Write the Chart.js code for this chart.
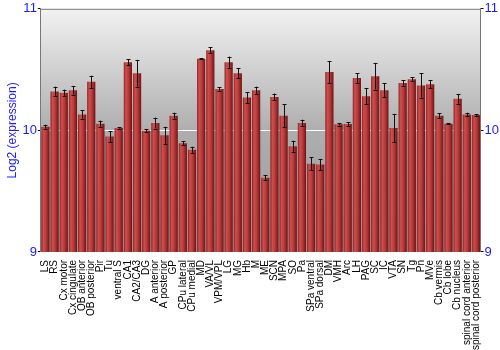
<!DOCTYPE html>
<html>
<head>
<meta charset="utf-8">
<script src="https://cdn.jsdelivr.net/npm/chart.js@4/dist/chart.umd.min.js"></script>
<style>
  html, body { margin: 0; padding: 0; background: #fff; }
  #wrap { width: 500px; height: 350px; }
</style>
</head>
<body>
<div id="wrap"><canvas id="chart" width="500" height="350"></canvas></div>
<script>
// regions
var regions = ["LS","RS","Cx motor","Cx cingulate","OB anterior","OB posterior","Pir","Tu","ventral S","CA1","CA2/CA3","DG","A anterior","A posterior","GP","CPu lateral","CPu medial","MD","VA/VL","VPM/VPL","LG","MG","Hb","M","ME","SCN","MPA","SO","Pa","SPa ventral","SPa dorsal","DM","VMH","Arc","LH","PAG","SC","IC","VTA","SN","Tg","Pn","MVe","Cb vermis","Cb lobe","Cb nucleus","spinal cord anterior","spinal cord posterior"];

// log2 expression per region
var expression = [10.03,10.32,10.31,10.33,10.13,10.40,10.055,9.95,10.02,10.56,10.47,10.00,10.06,9.96,10.12,9.895,9.84,10.59,10.66,10.34,10.56,10.47,10.27,10.33,9.61,10.275,10.12,9.87,10.06,9.725,9.72,10.48,10.05,10.052,10.43,10.28,10.445,10.33,10.02,10.39,10.42,10.37,10.38,10.12,10.055,10.26,10.13,10.127];

// error (+/-)
var errors = [0.017,0.04,0.025,0.035,0.035,0.05,0.025,0.045,0.005,0.025,0.11,0.012,0.045,0.07,0.025,0.017,0.025,0.005,0.025,0.017,0.047,0.04,0.045,0.03,0.02,0.028,0.095,0.045,0.028,0.055,0.045,0.09,0.01,0.017,0.04,0.065,0.11,0.058,0.116,0.023,0.017,0.1,0.033,0.02,0.006,0.04,0.015,0.008];

var yTicks = [9, 10, 11];

var blue = "#1a1aff";
var frameGrey = "#777777";

// gray gradient behind the bars + top frame line
var backgroundPlugin = {
  id: "bgGradient",
  beforeDraw: function (chart) {
    var ctx = chart.ctx, a = chart.chartArea;
    var g = ctx.createLinearGradient(0, a.top, 0, a.bottom);
    g.addColorStop(0, "#f2f2f2");
    g.addColorStop(0.5, "#aeaeae");
    g.addColorStop(1, "#9a9a9a");
    ctx.save();
    ctx.fillStyle = g;
    ctx.fillRect(a.left, a.top, a.right - a.left, a.bottom - a.top);
    ctx.strokeStyle = frameGrey;
    ctx.lineWidth = 1;
    ctx.beginPath();
    ctx.moveTo(a.left, a.top + 0.5);
    ctx.lineTo(a.right, a.top + 0.5);
    ctx.stroke();
    ctx.restore();
  }
};

// black error bars on top of each bar
var errorBarPlugin = {
  id: "errorBars",
  afterDatasetsDraw: function (chart) {
    var ctx = chart.ctx;
    var y = chart.scales.y;
    var meta = chart.getDatasetMeta(0);
    ctx.save();
    ctx.strokeStyle = "#111";
    ctx.lineWidth = 1;
    meta.data.forEach(function (bar, i) {
      var x = Math.round(bar.x) + 0.5;
      var top = y.getPixelForValue(expression[i] + errors[i]);
      var bot = y.getPixelForValue(expression[i] - errors[i]);
      ctx.beginPath();
      ctx.moveTo(x, top);
      ctx.lineTo(x, bot);
      ctx.moveTo(x - 2, Math.round(top) + 0.5);
      ctx.lineTo(x + 2, Math.round(top) + 0.5);
      ctx.moveTo(x - 2, Math.round(bot) + 0.5);
      ctx.lineTo(x + 2, Math.round(bot) + 0.5);
      ctx.stroke();
    });
    ctx.restore();
  }
};

function barFill(context) {
  var chart = context.chart;
  var xs = chart.scales.x;
  if (!xs || !chart.chartArea) return "#b33";
  var cx = xs.getPixelForValue(context.dataIndex);
  var w = (chart.chartArea.right - chart.chartArea.left) / regions.length * 0.9;
  var left = cx - w / 2;
  var g = chart.ctx.createLinearGradient(left, 0, left + w, 0);
  g.addColorStop(0, "#8e2222");
  g.addColorStop(0.25, "#cf4d4d");
  g.addColorStop(0.55, "#bb3c3c");
  g.addColorStop(1, "#6e1414");
  return g;
}

Chart.defaults.font.family = "'Liberation Sans', Arial, sans-serif";

new Chart(document.getElementById("chart"), {
  type: "bar",
  data: {
    labels: regions,
    datasets: [{
      label: "Log2 (expression)",
      data: expression,
      backgroundColor: barFill,
      borderWidth: 0,
      barPercentage: 0.9,
      categoryPercentage: 1.0
    }]
  },
  options: {
    responsive: false,
    animation: false,
    layout: { padding: { top: 4, right: 0, left: 5, bottom: 0 } },
    plugins: {
      legend: { display: false },
      tooltip: { enabled: false }
    },
    scales: {
      x: {
        grid: { display: false },
        border: { display: false },
        ticks: {
          color: "#000",
          font: { size: 10 },
          autoSkip: false,
          maxRotation: 90,
          minRotation: 90,
          padding: 0
        }
      },
      y: {
        position: "left",
        min: 9,
        max: 11,
        afterBuildTicks: function (axis) {
          axis.ticks = yTicks.map(function (v) { return { value: v }; });
        },
        grid: {
          color: function (c) { return c.tick && c.tick.value === 10 ? "#ffffff" : "rgba(0,0,0,0)"; },
          tickColor: "#000",
          tickLength: 3,
          lineWidth: 1
        },
        border: { display: true, color: frameGrey },
        ticks: { color: blue, font: { size: 13 }, padding: 1 },
        title: {
          display: true,
          text: "Log2 (expression)",
          color: blue,
          font: { size: 12 },
          padding: { top: 0, bottom: 2 }
        }
      },
      y2: {
        position: "right",
        min: 9,
        max: 11,
        afterBuildTicks: function (axis) {
          axis.ticks = yTicks.map(function (v) { return { value: v }; });
        },
        grid: { drawOnChartArea: false, tickColor: "#000", tickLength: 3 },
        border: { display: true, color: frameGrey },
        ticks: { color: blue, font: { size: 13 }, padding: 1 }
      }
    }
  },
  plugins: [backgroundPlugin, errorBarPlugin]
});
</script>
</body>
</html>
